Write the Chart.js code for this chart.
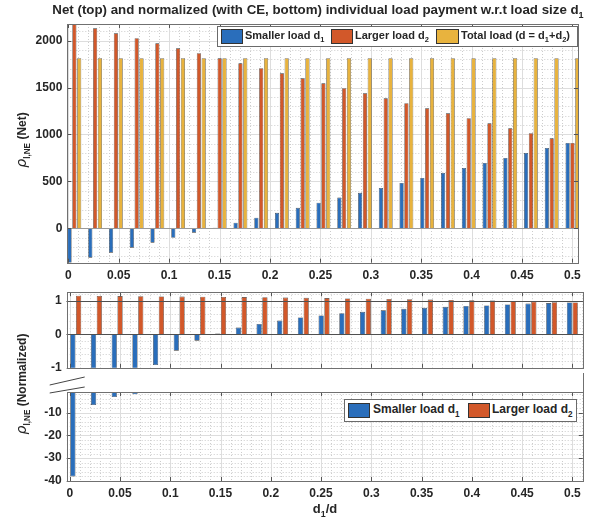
<!DOCTYPE html>
<html lang="en">
<head>
<meta charset="UTF-8">
<title>Individual load payment vs load size</title>
<script src="https://cdn.jsdelivr.net/npm/chart.js"></script>
<style>
  body { margin: 0; background: #fff; font-family: 'Liberation Sans', Arial, sans-serif; color: #262626; }
  #wrap { position: relative; width: 595px; height: 520px; overflow: hidden; }
  canvas { position: absolute; left: 0; }
  .txt { position: absolute; font-weight: bold; white-space: nowrap; }
  sub { font-size: 0.68em; vertical-align: -0.45em; line-height: 0; }
  .ytitle { transform: translate(-50%, -50%) rotate(-90deg); font-size: 12px; }
  .rho { font-style: italic; font-weight: normal; font-size: 14px; font-family: 'DejaVu Sans', sans-serif; }
  .legend { position: absolute; background: #fff; border: 1px solid #6a6a6a; box-sizing: border-box; font-weight: bold; }
  .legend .sw { position: absolute; border: 1px solid #333; box-sizing: border-box; }
  .legend .lb { position: absolute; white-space: nowrap; }
</style>
</head>
<body>
<div id="wrap">
  <canvas id="netChart" width="595" height="290" style="top:0"></canvas>
  <canvas id="normTop" width="595" height="100" style="top:280px"></canvas>
  <canvas id="normLow" width="595" height="150" style="top:370px"></canvas>

  <div class="txt" style="left:318px; top:2px; font-size:13.3px; transform:translateX(-50%)">Net (top) and normalized (with CE, bottom) individual load payment w.r.t load size d<sub>1</sub></div>
  <div class="txt ytitle" style="left:21px; top:140px"><span class="rho">ρ</span><sub>l,NE</sub> (Net)</div>
  <div class="txt ytitle" style="left:21px; top:384px"><span class="rho">ρ</span><sub>l,NE</sub> (Normalized)</div>
  <div class="txt" style="left:325px; top:501px; font-size:13px; transform:translateX(-50%)">d<sub>1</sub>/d</div>

  <div class="legend" style="left:217px; top:26px; width:361px; height:21px; font-size:11px">
    <span class="sw" style="left:3px; top:2px; width:22px; height:15px; background:#2a6ebb"></span>
    <span class="lb" style="left:27px; top:2px">Smaller load d<sub>1</sub></span>
    <span class="sw" style="left:113px; top:2px; width:22px; height:15px; background:#d2582a"></span>
    <span class="lb" style="left:137px; top:2px">Larger load d<sub>2</sub></span>
    <span class="sw" style="left:218px; top:2px; width:23px; height:15px; background:#e8b33e"></span>
    <span class="lb" style="left:243px; top:2px">Total load (d = d<sub>1</sub>+d<sub>2</sub>)</span>
  </div>
  <div class="legend" style="left:344px; top:399px; width:233px; height:23px; font-size:12px">
    <span class="sw" style="left:3px; top:3px; width:22px; height:15px; background:#2a6ebb"></span>
    <span class="lb" style="left:28px; top:2px">Smaller load d<sub>1</sub></span>
    <span class="sw" style="left:123px; top:3px; width:22px; height:15px; background:#d2582a"></span>
    <span class="lb" style="left:147px; top:2px">Larger load d<sub>2</sub></span>
  </div>
</div>

<script>
  // Data (d1/d position of each group)
  const dRatio = [0.006, 0.0266, 0.0472, 0.0678, 0.0883, 0.1089, 0.1295, 0.1501, 0.1707, 0.1913,
                  0.2118, 0.2324, 0.2530, 0.2736, 0.2942, 0.3148, 0.3353, 0.3559, 0.3765, 0.3971,
                  0.4177, 0.4383, 0.4588, 0.4794, 0.5];

  // net payment (top)
  const netSmall = [-368, -313, -260, -207, -153, -102, -47, 6, 60, 112, 165, 218, 273, 327, 378,
                    430, 483, 536, 590, 643, 696, 750, 803, 856, 909];
  const netLarge = [2185, 2132, 2079, 2026, 1972, 1919, 1866, 1812, 1759, 1706, 1652, 1599, 1546,
                    1493, 1439, 1386, 1333, 1279, 1226, 1173, 1119, 1066, 1013, 959, 909];
  const netTotal = [1813, 1813, 1813, 1813, 1813, 1813, 1813, 1813, 1813, 1813, 1813, 1813, 1813,
                    1813, 1813, 1813, 1813, 1813, 1813, 1813, 1813, 1813, 1813, 1813, 1813];

  // normalized payment (bottom)
  const normSmall = [-38, -6.7, -3.2, -2.0, -0.92, -0.49, -0.19, 0.02, 0.2, 0.31, 0.41, 0.5, 0.56,
                     0.63, 0.67, 0.715, 0.76, 0.79, 0.82, 0.845, 0.86, 0.89, 0.915, 0.93, 0.948];
  const normLarge = [1.15, 1.145, 1.14, 1.135, 1.13, 1.125, 1.12, 1.115, 1.11, 1.105, 1.096, 1.088,
                     1.079, 1.07, 1.062, 1.053, 1.044, 1.035, 1.026, 1.017, 1.008, 0.99, 0.97, 0.956, 0.948];

  // tick labels
  const xTicks = [0, 0.05, 0.1, 0.15, 0.2, 0.25, 0.3, 0.35, 0.4, 0.45, 0.5];
  const netTicks = [0, 500, 1000, 1500, 2000];
  const normTopTicks = [-1, 0, 1];
  const normLowTicks = [-40, -30, -20, -10];

  const BLUE = '#2a6ebb', ORANGE = '#d2582a', YELLOW = '#e8b33e';
  const FONT = { family: "'Liberation Sans', Arial, sans-serif", size: 12, weight: 'bold' };

  function steps(min, max, step) {
    const out = [];
    for (let k = Math.ceil(min / step - 1e-9); k * step <= max + 1e-9; k++) out.push(k * step);
    return out;
  }

  // grid, frame, tick marks
  const axisBox = {
    id: 'axisBox',
    beforeDatasetsDraw(chart, args, o) {
      const { ctx, chartArea: a, scales: { x, y } } = chart;
      const vline = px => { const p = Math.round(px) + 0.5; ctx.beginPath(); ctx.moveTo(p, a.top); ctx.lineTo(p, a.bottom); ctx.stroke(); };
      const hline = py => { const p = Math.round(py) + 0.5; ctx.beginPath(); ctx.moveTo(a.left, p); ctx.lineTo(a.right, p); ctx.stroke(); };
      ctx.save();
      ctx.beginPath(); ctx.rect(a.left, a.top, a.width, a.height); ctx.clip();
      ctx.lineWidth = 1;
      ctx.strokeStyle = '#cdcdcd'; ctx.setLineDash([1, 2]);
      steps(x.min, x.max, o.xMinor).forEach(v => vline(x.getPixelForValue(v)));
      steps(y.min, y.max, o.yMinor).forEach(v => hline(y.getPixelForValue(v)));
      ctx.setLineDash([]); ctx.strokeStyle = '#dddddd';
      x.ticks.forEach(t => vline(x.getPixelForValue(t.value)));
      y.ticks.forEach(t => hline(y.getPixelForValue(t.value)));
      ctx.restore();
    },
    afterDatasetsDraw(chart, args, o) {
      const { ctx, chartArea: a, scales: { x, y } } = chart;
      ctx.save();
      ctx.lineWidth = 1;
      (o.lines || []).forEach(l => {
        const p = Math.round(y.getPixelForValue(l.v)) + 0.5;
        ctx.strokeStyle = l.c;
        ctx.beginPath(); ctx.moveTo(a.left, p); ctx.lineTo(a.right, p); ctx.stroke();
      });
      ctx.strokeStyle = '#555';
      ctx.beginPath();
      x.ticks.forEach(t => {
        const p = Math.round(x.getPixelForValue(t.value)) + 0.5;
        if (p < a.left || p > a.right) return;
        ctx.moveTo(p, a.bottom); ctx.lineTo(p, a.bottom - 4);
        ctx.moveTo(p, a.top); ctx.lineTo(p, a.top + 4);
      });
      y.ticks.forEach(t => {
        const p = Math.round(y.getPixelForValue(t.value)) + 0.5;
        ctx.moveTo(a.left, p); ctx.lineTo(a.left + 4, p);
        ctx.moveTo(a.right, p); ctx.lineTo(a.right - 4, p);
      });
      ctx.stroke();
      ctx.strokeStyle = '#707070';
      ctx.strokeRect(Math.round(a.left) + 0.5, Math.round(a.top) + 0.5, Math.round(a.right) - Math.round(a.left), Math.round(a.bottom) - Math.round(a.top));
      ctx.restore();
    }
  };

  // broken axis marks between the two normalized panels
  const axisBreak = {
    id: 'axisBreak',
    afterDraw(chart) {
      const { ctx, chartArea: a } = chart;
      const L = a.left, T = a.top;
      ctx.save();
      ctx.strokeStyle = '#707070'; ctx.lineWidth = 1;
      ctx.beginPath(); ctx.moveTo(Math.round(a.right) + 0.5, T - 19); ctx.lineTo(Math.round(a.right) + 0.5, T); ctx.stroke();
      ctx.fillStyle = '#fff';
      ctx.beginPath();
      ctx.moveTo(L - 17, T - 7); ctx.lineTo(L + 18, T - 15); ctx.lineTo(L + 18, T - 5); ctx.lineTo(L - 17, T + 1);
      ctx.closePath(); ctx.fill();
      ctx.strokeStyle = '#444';
      ctx.beginPath();
      ctx.moveTo(L - 17, T - 7); ctx.lineTo(L + 18, T - 15);
      ctx.moveTo(L - 17, T + 1); ctx.lineTo(L + 18, T - 5);
      ctx.stroke();
      ctx.restore();
    }
  };

  function makeChart(id, series, opt) {
    return new Chart(document.getElementById(id), {
      type: 'bar',
      data: {
        datasets: series.map(s => ({
          label: s.label,
          data: dRatio.map((x, i) => ({ x: x, y: s.values[i] })),
          backgroundColor: s.color,
          borderColor: '#333',
          borderWidth: 0.6,
          categoryPercentage: opt.cp,
          barPercentage: opt.bp
        }))
      },
      options: {
        responsive: false,
        animation: false,
        layout: { padding: opt.pad },
        plugins: {
          legend: { display: false },
          tooltip: { enabled: false },
          axisBox: opt.box
        },
        scales: {
          x: {
            type: 'linear', offset: false, min: opt.xMin, max: opt.xMax,
            grid: { display: false, drawTicks: false }, border: { display: false },
            ticks: { display: opt.xLabels, font: FONT, color: '#262626', padding: opt.xPad, maxRotation: 0, autoSkip: false, callback: v => String(v) },
            afterBuildTicks: s => { s.ticks = xTicks.map(v => ({ value: v })); },
            afterFit: s => { s.height = opt.xHeight; }
          },
          y: {
            min: opt.yMin, max: opt.yMax,
            grid: { display: false, drawTicks: false }, border: { display: false },
            ticks: { font: FONT, color: '#262626', padding: 5, callback: v => String(v) },
            afterBuildTicks: s => { s.ticks = opt.yTicks.map(v => ({ value: v })); },
            afterFit: s => { s.width = opt.yWidth; }
          }
        }
      },
      plugins: [axisBox].concat(opt.extra || [])
    });
  }

  const netSeries = [
    { label: 'Smaller load d1', values: netSmall, color: BLUE },
    { label: 'Larger load d2', values: netLarge, color: ORANGE },
    { label: 'Total load (d = d1+d2)', values: netTotal, color: YELLOW }
  ];
  const normSeries = [
    { label: 'Smaller load d1', values: normSmall, color: BLUE },
    { label: 'Larger load d2', values: normLarge, color: ORANGE }
  ];

  makeChart('netChart', netSeries, {
    cp: 0.7, bp: 0.86,
    pad: { top: 24, right: 17, left: 0, bottom: 0 },
    xMin: -0.001, xMax: 0.5055, xLabels: true, xPad: 6, xHeight: 27.3,
    yMin: -367, yMax: 2178, yTicks: netTicks, yWidth: 67.3,
    box: { xMinor: 0.01, yMinor: 100, lines: [{ v: 0, c: '#9a9a9a' }] }
  });

  makeChart('normTop', normSeries, {
    cp: 0.56, bp: 0.9,
    pad: { top: 5, right: 12.2, left: 0, bottom: 0 },
    xMin: -0.003, xMax: 0.5104, xLabels: false, xPad: 0, xHeight: 6.7,
    yMin: -1, yMax: 1.255, yTicks: normTopTicks, yWidth: 66.7,
    box: { xMinor: 0.01, yMinor: 0.2, lines: [{ v: 0, c: '#505050' }, { v: 1, c: '#505050' }] }
  });

  makeChart('normLow', normSeries, {
    cp: 0.56, bp: 0.9,
    pad: { top: 22, right: 12.2, left: 0, bottom: 0 },
    xMin: -0.003, xMax: 0.5104, xLabels: true, xPad: 5, xHeight: 39,
    yMin: -40, yMax: -1, yTicks: normLowTicks, yWidth: 66.7,
    box: { xMinor: 0.01, yMinor: 2 },
    extra: [axisBreak]
  });
</script>
</body>
</html>
